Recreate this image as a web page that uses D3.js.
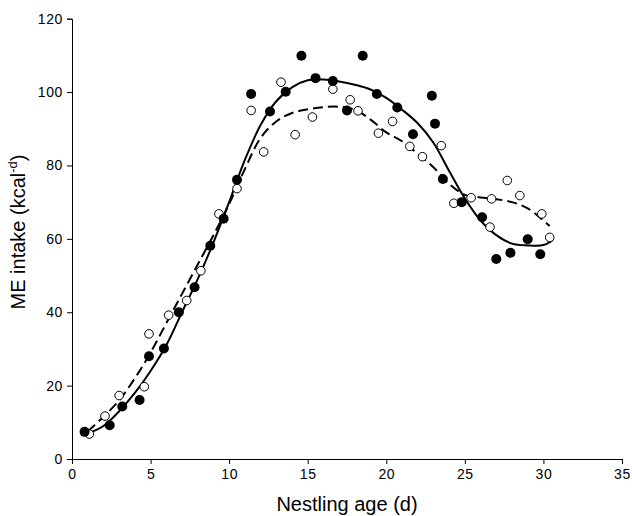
<!DOCTYPE html>
<html>
<head>
<meta charset="utf-8">
<script src="https://cdn.jsdelivr.net/npm/d3@7"></script>
<style>
  body { margin: 0; background: #fff; }
  text { font-family: Arial, "Liberation Sans", sans-serif; fill: #000; }
</style>
</head>
<body>
<svg class="chart"></svg>
<script>
const size = {w: 632, h: 516};

// observed points: filled circles
const filledAge = [0.8, 2.4, 3.2, 4.3, 4.9, 5.85, 6.8, 7.8, 8.8, 9.65, 10.5, 11.4, 12.6, 13.6, 14.6, 15.5,
    16.6, 17.5, 18.5, 19.4, 20.7, 21.7, 22.9, 23.1, 23.6, 24.8, 26.1, 27.0, 27.9, 29.0, 29.8];
const filledME = [7.4, 9.2, 14.3, 16.1, 28.0, 30.1, 40.0, 46.8, 58.1, 65.5, 76.1, 99.5, 94.7, 100.1, 109.9, 103.8,
    103.0, 95.0, 109.9, 99.5, 95.8, 88.5, 99.0, 91.4, 76.3, 70.0, 65.9, 54.5, 56.2, 59.9, 55.8];

// observed points: open circles
const openAge = [1.1, 2.1, 3.0, 4.6, 4.9, 6.15, 7.3, 8.2, 9.35, 10.5, 11.4, 12.2, 13.3, 14.2, 15.3, 16.6,
    17.7, 18.2, 19.5, 20.4, 21.5, 22.3, 23.5, 24.3, 25.4, 26.6, 26.7, 27.7, 28.5, 29.9, 30.4];
const openME = [6.8, 11.7, 17.3, 19.7, 34.1, 39.2, 43.2, 51.3, 66.8, 73.7, 95.0, 83.7, 102.7, 88.4, 93.2, 100.8,
    97.9, 94.9, 88.8, 92.0, 85.2, 82.4, 85.4, 69.7, 71.2, 63.2, 70.9, 75.9, 71.8, 66.8, 60.4];

// fitted curves
const fitAge = [0.8, 2, 3, 4, 5, 6, 7, 8, 9, 10, 11, 12, 13, 14, 15, 16, 17, 18, 19, 20,
    21, 22, 23, 24, 25, 26, 27, 28, 29, 30, 30.6];
const solidFit = [6.6, 9, 13, 18, 24, 31, 40, 49, 59, 70, 81.5, 91, 97.5, 101.3, 103.2, 103.4, 102.9, 102, 100.7, 98.4,
    95.2, 91.5, 86.2, 78.5, 71, 65, 61, 58.7, 58.2, 58.3, 59.7];
const dashAge = [1, 2, 3, 4, 5, 6, 7, 8, 9, 10, 11, 12, 13, 14, 15, 16, 17, 18, 19, 20,
    21, 22, 23, 24, 25, 26, 27, 28, 29, 30, 30.4];
const dashedFit = [7.5, 11.5, 16, 22, 29, 37, 45, 53, 61, 69.5, 79, 87.5, 92, 94.3, 95.3, 95.9, 96, 95.2, 92.5, 89,
    86.6, 83.2, 79.5, 75, 72, 71.3, 70.8, 70, 68.3, 65, 63.5];

const xTicks = [0, 5, 10, 15, 20, 25, 30, 35];
const yTicks = [0, 20, 40, 60, 80, 100, 120];

const margin = {left: 72, right: 10, top: 18.7, bottom: 57};

const svg = d3.select('svg.chart')
    .attr('width', size.w)
    .attr('height', size.h);

const x = d3.scaleLinear().domain([0, 35]).range([margin.left, 622]);
const y = d3.scaleLinear().domain([0, 120]).range([459, margin.top]);

// axes
const xAxis = svg.append('g')
    .attr('transform', `translate(0,${y(0)})`)
    .call(d3.axisBottom(x).tickValues(xTicks).tickSize(5).tickPadding(5));
const yAxis = svg.append('g')
    .attr('transform', `translate(${x(0)},0)`)
    .call(d3.axisLeft(y).tickValues(yTicks).tickSize(5).tickPadding(4));

[xAxis, yAxis].forEach(function (g) {
    g.select('.domain').attr('stroke', '#000').attr('stroke-width', 1);
    g.selectAll('.tick line').attr('stroke', '#000');
    g.selectAll('.tick text')
        .style('font-family', 'Arial, "Liberation Sans", sans-serif')
        .style('font-size', '14px')
        .style('letter-spacing', '0.6px')
        .attr('fill', '#000');
});

// fitted lines
const line = d3.line()
    .x(d => x(d[0]))
    .y(d => y(d[1]))
    .curve(d3.curveCatmullRom);

svg.append('path')
    .datum(dashAge.map((a, i) => [a, dashedFit[i]]))
    .attr('d', line)
    .attr('fill', 'none')
    .attr('stroke', '#000')
    .attr('stroke-width', 2)
    .attr('stroke-dasharray', '10,5');

svg.append('path')
    .datum(fitAge.map((a, i) => [a, solidFit[i]]))
    .attr('d', line)
    .attr('fill', 'none')
    .attr('stroke', '#000')
    .attr('stroke-width', 2);

// points
svg.append('g').selectAll('circle')
    .data(openAge.map((a, i) => [a, openME[i]]))
    .join('circle')
    .attr('cx', d => x(d[0]))
    .attr('cy', d => y(d[1]))
    .attr('r', 4.3)
    .attr('fill', '#fff')
    .attr('stroke', '#000')
    .attr('stroke-width', 1);

svg.append('g').selectAll('circle')
    .data(filledAge.map((a, i) => [a, filledME[i]]))
    .join('circle')
    .attr('cx', d => x(d[0]))
    .attr('cy', d => y(d[1]))
    .attr('r', 5)
    .attr('fill', '#000');

// axis titles
svg.append('text')
    .attr('x', (x(0) + x(35)) / 2)
    .attr('y', 511)
    .attr('text-anchor', 'middle')
    .style('font-size', '20px')
    .text('Nestling age (d)');

const yTitle = svg.append('text')
    .attr('transform', 'translate(24.5,232) rotate(-90)')
    .attr('text-anchor', 'middle')
    .style('font-size', '20px');
yTitle.append('tspan').text('ME intake (kcal');
yTitle.append('tspan').attr('dy', -8).style('font-size', '13px').text('-d');
yTitle.append('tspan').attr('dy', 8).text(')');
</script>
</body>
</html>
